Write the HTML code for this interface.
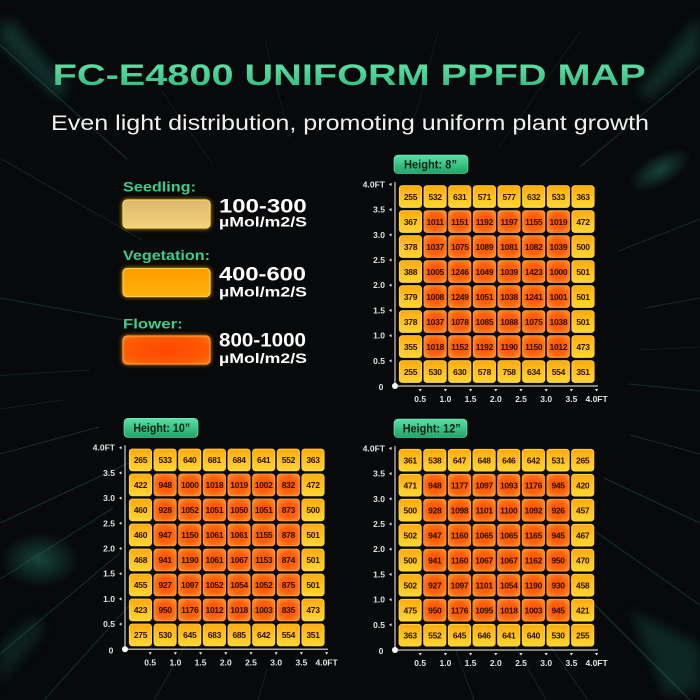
<!DOCTYPE html>
<html><head><meta charset="utf-8">
<style>
html,body{margin:0;padding:0;background:#07090a;width:700px;height:700px;overflow:hidden;}
svg{display:block;overflow:hidden;}
text{font-family:"Liberation Sans",sans-serif;}
.b{font-weight:bold;}
.cv{font-size:8.5px;font-weight:bold;fill:#2a1000;text-anchor:middle;letter-spacing:-0.3px;}
.al{font-size:8.5px;font-weight:bold;fill:#e2e2e2;}
.ae{text-anchor:end;}
.am{text-anchor:middle;}
.cy{fill:url(#gy);stroke:#ffd84f;stroke-width:0.8;}
.co{fill:url(#go);stroke:#ff9a3a;stroke-width:0.8;}
</style></head>
<body>
<svg width="700" height="700" viewBox="0 0 700 700" xmlns="http://www.w3.org/2000/svg">
<defs>
  <clipPath id="frame"><rect x="0" y="0" width="700" height="700"/></clipPath>
  <linearGradient id="tg" x1="0" y1="0" x2="0" y2="1">
    <stop offset="0" stop-color="#66e8ae"/><stop offset="1" stop-color="#2cb67a"/>
  </linearGradient>
  <linearGradient id="badge" x1="0" y1="0" x2="0" y2="1">
    <stop offset="0" stop-color="#58e0a5"/><stop offset="1" stop-color="#20a56a"/>
  </linearGradient>
  <linearGradient id="gy" x1="0" y1="0" x2="0" y2="1">
    <stop offset="0" stop-color="#ffaa10"/><stop offset="0.5" stop-color="#ffc21e"/><stop offset="1" stop-color="#ffd632"/>
  </linearGradient>
  <radialGradient id="go" cx="0.5" cy="0.5" r="0.6">
    <stop offset="0" stop-color="#ff5200"/><stop offset="0.6" stop-color="#ff620c"/><stop offset="1" stop-color="#ff8c2a"/>
  </radialGradient>
  <linearGradient id="ls" x1="0" y1="0" x2="0" y2="1">
    <stop offset="0" stop-color="#dcb86e"/><stop offset="1" stop-color="#f3d27c"/>
  </linearGradient>
  <linearGradient id="lv" x1="0" y1="0" x2="0" y2="1">
    <stop offset="0" stop-color="#ff9c00"/><stop offset="1" stop-color="#ffb20a"/>
  </linearGradient>
  <radialGradient id="lf" cx="0.5" cy="0.5" r="0.7">
    <stop offset="0" stop-color="#ff4800"/><stop offset="0.7" stop-color="#ff5a06"/><stop offset="1" stop-color="#ff7a1a"/>
  </radialGradient>
  <radialGradient id="glow" cx="0.5" cy="0.5" r="0.5">
    <stop offset="0" stop-color="#2a8c78" stop-opacity="0.45"/><stop offset="1" stop-color="#2a8c78" stop-opacity="0"/>
  </radialGradient>
  <filter id="bl" x="-50%" y="-50%" width="200%" height="200%"><feGaussianBlur stdDeviation="2.2"/></filter>
  <filter id="bl3" x="-50%" y="-50%" width="200%" height="200%"><feGaussianBlur stdDeviation="6"/></filter>

  <g id="rowE">
    <rect class="cy" x="0" y="0" width="22.3" height="21.8" rx="3"/>
    <rect class="cy" x="24.65" y="0" width="22.3" height="21.8" rx="3"/>
    <rect class="cy" x="49.3" y="0" width="22.3" height="21.8" rx="3"/>
    <rect class="cy" x="73.95" y="0" width="22.3" height="21.8" rx="3"/>
    <rect class="cy" x="98.6" y="0" width="22.3" height="21.8" rx="3"/>
    <rect class="cy" x="123.25" y="0" width="22.3" height="21.8" rx="3"/>
    <rect class="cy" x="147.9" y="0" width="22.3" height="21.8" rx="3"/>
    <rect class="cy" x="172.55" y="0" width="22.3" height="21.8" rx="3"/>
  </g>
  <g id="rowM">
    <rect class="cy" x="0" y="0" width="22.3" height="21.8" rx="3"/>
    <rect class="co" x="24.65" y="0" width="22.3" height="21.8" rx="3"/>
    <rect class="co" x="49.3" y="0" width="22.3" height="21.8" rx="3"/>
    <rect class="co" x="73.95" y="0" width="22.3" height="21.8" rx="3"/>
    <rect class="co" x="98.6" y="0" width="22.3" height="21.8" rx="3"/>
    <rect class="co" x="123.25" y="0" width="22.3" height="21.8" rx="3"/>
    <rect class="co" x="147.9" y="0" width="22.3" height="21.8" rx="3"/>
    <rect class="cy" x="172.55" y="0" width="22.3" height="21.8" rx="3"/>
  </g>
  <g id="cells">
    <use href="#rowE" y="0"/>
    <use href="#rowM" y="25"/>
    <use href="#rowM" y="50"/>
    <use href="#rowM" y="75"/>
    <use href="#rowM" y="100"/>
    <use href="#rowM" y="125"/>
    <use href="#rowM" y="150"/>
    <use href="#rowE" y="175"/>
  </g>
  <g id="ax">
    <line x1="0" y1="0" x2="0" y2="-204" stroke="#a8a8a8" stroke-width="1.5"/>
    <line x1="0" y1="0" x2="203" y2="0" stroke="#a8a8a8" stroke-width="1.5"/>
    <circle cx="0" cy="0" r="3" fill="#ffffff"/>
    <path fill="#e8e8e8" d="M-6,-25.2l2.5-1.6v3.2z M-6,-50.4l2.5-1.6v3.2z M-6,-75.6l2.5-1.6v3.2z M-6,-100.8l2.5-1.6v3.2z M-6,-126l2.5-1.6v3.2z M-6,-151.2l2.5-1.6v3.2z M-6,-176.4l2.5-1.6v3.2z M-6,-201.6l2.5-1.6v3.2z"/>
    <path fill="#e8e8e8" d="M23.6,3h3.2l-1.6,2.5z M48.8,3h3.2l-1.6,2.5z M74,3h3.2l-1.6,2.5z M99.2,3h3.2l-1.6,2.5z M124.4,3h3.2l-1.6,2.5z M149.6,3h3.2l-1.6,2.5z M174.8,3h3.2l-1.6,2.5z M200,3h3.2l-1.6,2.5z"/>
  </g>
</defs>

<!-- background -->
<rect x="0" y="0" width="700" height="700" fill="#07090a"/>
<g clip-path="url(#frame)">
<ellipse cx="40" cy="560" rx="40" ry="28" fill="url(#glow)"/>
<ellipse cx="660" cy="170" rx="35" ry="16" fill="url(#glow)" transform="rotate(-30 660 170)"/>
<g filter="url(#bl3)" opacity="0.45">
  <polygon points="0,22 12,20 70,90 56,98 0,42" fill="#1d5e52"/>
  <polygon points="700,15 700,55 648,100 638,92" fill="#1a5a4e"/>
  <polygon points="630,610 700,645 700,690 665,695" fill="#164e44"/>
  <polygon points="0,645 35,615 45,630 0,685" fill="#123f38"/>
</g>
<g stroke-linecap="butt">
  <line x1="123" y1="320" x2="0" y2="298" stroke="#3aa48e" stroke-width="0.9" opacity="0.25"/>
  <line x1="99" y1="427" x2="0" y2="454" stroke="#8fe0cf" stroke-width="0.7" opacity="0.2"/>
  <line x1="133" y1="461" x2="0" y2="523" stroke="#3aa48e" stroke-width="1" opacity="0.28"/>
  <line x1="113" y1="508" x2="0" y2="579" stroke="#2f8f7c" stroke-width="1.1" opacity="0.25"/>
  <line x1="120" y1="553" x2="0" y2="654" stroke="#3aa48e" stroke-width="1" opacity="0.25"/>
  <line x1="136" y1="598" x2="44" y2="700" stroke="#2a7f6e" stroke-width="1.2" opacity="0.28"/>
  <line x1="63" y1="400" x2="0" y2="409" stroke="#ffffff" stroke-width="0.6" opacity="0.12"/>
  <line x1="142" y1="240" x2="0" y2="158" stroke="#3aa48e" stroke-width="0.8" opacity="0.22"/>
  <line x1="127" y1="159" x2="0" y2="45" stroke="#3aa48e" stroke-width="1.2" opacity="0.25"/>
  <line x1="212" y1="163" x2="161" y2="90" stroke="#ffffff" stroke-width="0.6" opacity="0.1"/>
  <line x1="290" y1="138" x2="265" y2="41" stroke="#ffffff" stroke-width="0.5" opacity="0.1"/>
  <line x1="412" y1="128" x2="438" y2="32" stroke="#ffffff" stroke-width="0.5" opacity="0.1"/>
  <line x1="499" y1="147" x2="580" y2="32" stroke="#3aa48e" stroke-width="0.7" opacity="0.18"/>
  <line x1="580" y1="167" x2="700" y2="66" stroke="#3aa48e" stroke-width="1.1" opacity="0.25"/>
  <line x1="619" y1="251" x2="700" y2="219" stroke="#3aa48e" stroke-width="0.9" opacity="0.25"/>
  <line x1="645" y1="308" x2="700" y2="298" stroke="#8fe0cf" stroke-width="0.7" opacity="0.18"/>
  <line x1="629" y1="384" x2="700" y2="391" stroke="#3aa48e" stroke-width="0.9" opacity="0.25"/>
  <line x1="630" y1="435" x2="700" y2="454" stroke="#8fe0cf" stroke-width="0.7" opacity="0.2"/>
  <line x1="604" y1="478" x2="700" y2="523" stroke="#3aa48e" stroke-width="1" opacity="0.28"/>
  <line x1="596" y1="532" x2="700" y2="605" stroke="#2f8f7c" stroke-width="1.1" opacity="0.28"/>
  <line x1="569" y1="579" x2="690" y2="700" stroke="#3aa48e" stroke-width="1.2" opacity="0.28"/>
  <line x1="522" y1="606" x2="588" y2="700" stroke="#2f8f7c" stroke-width="1" opacity="0.25"/>
  <line x1="456" y1="651" x2="474" y2="700" stroke="#8fe0cf" stroke-width="0.7" opacity="0.18"/>
  <line x1="267" y1="669" x2="258" y2="700" stroke="#ffffff" stroke-width="0.6" opacity="0.12"/>
  <line x1="200" y1="620" x2="154" y2="700" stroke="#3aa48e" stroke-width="0.9" opacity="0.22"/>
  <line x1="510" y1="637" x2="546" y2="700" stroke="#3aa48e" stroke-width="0.8" opacity="0.22"/>
  <line x1="640" y1="350" x2="700" y2="347" stroke="#ffffff" stroke-width="0.5" opacity="0.12"/>
  <line x1="90" y1="370" x2="0" y2="375.5" stroke="#3aa48e" stroke-width="0.7" opacity="0.2"/>
</g>
</g>

<!-- title -->
<text x="52.7" y="85" class="b" font-size="30" textLength="593" lengthAdjust="spacingAndGlyphs" fill="url(#tg)">FC-E4800 UNIFORM PPFD MAP</text>
<text x="51" y="130" font-size="21" textLength="598" lengthAdjust="spacingAndGlyphs" fill="#f0f0f0">Even light distribution, promoting uniform plant growth</text>

<!-- legend -->
<text x="123" y="191.7" class="b" font-size="14" textLength="73" lengthAdjust="spacingAndGlyphs" fill="#3fcd8c">Seedling:</text>
<text x="123" y="260" class="b" font-size="14" textLength="87" lengthAdjust="spacingAndGlyphs" fill="#3fcd8c">Vegetation:</text>
<text x="123" y="328.3" class="b" font-size="14" textLength="59.7" lengthAdjust="spacingAndGlyphs" fill="#3fcd8c">Flower:</text>

<g filter="url(#bl)" opacity="0.7">
  <rect x="122" y="199" width="89" height="30" rx="5" fill="#ffbb22"/>
  <rect x="122" y="267.5" width="89" height="30" rx="5" fill="#ffb000"/>
  <rect x="122" y="335" width="89" height="30" rx="5" fill="#ff8a10"/>
</g>
<rect x="123" y="200" width="87" height="28" rx="4" fill="url(#ls)" stroke="#ffd566" stroke-width="1.2"/>
<rect x="123" y="268.5" width="87" height="28" rx="4" fill="url(#lv)" stroke="#ffd040" stroke-width="1.2"/>
<rect x="123" y="336" width="87" height="28" rx="4" fill="url(#lf)" stroke="#ff9c34" stroke-width="1.2"/>

<text x="219" y="212.7" class="b" font-size="19" textLength="87.7" lengthAdjust="spacingAndGlyphs" fill="#ffffff">100-300</text>
<text x="219" y="226.7" class="b" font-size="14" textLength="88" lengthAdjust="spacingAndGlyphs" fill="#ffffff">µMol/m2/S</text>
<text x="219" y="280.7" class="b" font-size="19" textLength="87" lengthAdjust="spacingAndGlyphs" fill="#ffffff">400-600</text>
<text x="219" y="296.7" class="b" font-size="14" textLength="88" lengthAdjust="spacingAndGlyphs" fill="#ffffff">µMol/m2/S</text>
<text x="219" y="346.7" class="b" font-size="19" textLength="87" lengthAdjust="spacingAndGlyphs" fill="#ffffff">800-1000</text>
<text x="219" y="363" class="b" font-size="14" textLength="88" lengthAdjust="spacingAndGlyphs" fill="#ffffff">µMol/m2/S</text>

<!-- CHART 8" -->
<g transform="translate(395,386)">
  <rect x="-1" y="-231" width="74" height="18.5" rx="4" fill="url(#badge)" stroke="#7ff0c0" stroke-width="0.6"/>
  <text x="35.5" y="-217.5" class="b am" font-size="11.5" textLength="53" lengthAdjust="spacingAndGlyphs" fill="#0c2217">Height: 8”</text>
  <use href="#ax"/>
  <text class="al ae" x="-10" y="-22.2">0.5</text>
  <text class="al ae" x="-10" y="-47.4">1.0</text>
  <text class="al ae" x="-10" y="-72.6">1.5</text>
  <text class="al ae" x="-10" y="-97.8">2.0</text>
  <text class="al ae" x="-10" y="-123">2.5</text>
  <text class="al ae" x="-10" y="-148.2">3.0</text>
  <text class="al ae" x="-10" y="-173.4">3.5</text>
  <text class="al ae" x="-10" y="-198.6">4.0FT</text>
  <text class="al am" x="-14" y="4">0</text>
  <text class="al am" y="16"><tspan x="25.2">0.5</tspan><tspan x="50.4">1.0</tspan><tspan x="75.6">1.5</tspan><tspan x="100.8">2.0</tspan><tspan x="126">2.5</tspan><tspan x="151.2">3.0</tspan><tspan x="176.4">3.5</tspan><tspan x="201.6">4.0FT</tspan></text>
  <g transform="translate(4.3,-200.3)">
    <use href="#cells"/>
    <text class="cv" y="14.1"><tspan x="11.2">255</tspan><tspan x="35.8">532</tspan><tspan x="60.5">631</tspan><tspan x="85.1">571</tspan><tspan x="109.8">577</tspan><tspan x="134.4">632</tspan><tspan x="159.1">533</tspan><tspan x="183.7">363</tspan></text>
    <text class="cv" y="39.1"><tspan x="11.2">367</tspan><tspan x="35.8">1011</tspan><tspan x="60.5">1151</tspan><tspan x="85.1">1192</tspan><tspan x="109.8">1197</tspan><tspan x="134.4">1155</tspan><tspan x="159.1">1019</tspan><tspan x="183.7">472</tspan></text>
    <text class="cv" y="64.1"><tspan x="11.2">378</tspan><tspan x="35.8">1037</tspan><tspan x="60.5">1075</tspan><tspan x="85.1">1089</tspan><tspan x="109.8">1081</tspan><tspan x="134.4">1082</tspan><tspan x="159.1">1039</tspan><tspan x="183.7">500</tspan></text>
    <text class="cv" y="89.1"><tspan x="11.2">388</tspan><tspan x="35.8">1005</tspan><tspan x="60.5">1246</tspan><tspan x="85.1">1049</tspan><tspan x="109.8">1039</tspan><tspan x="134.4">1423</tspan><tspan x="159.1">1000</tspan><tspan x="183.7">501</tspan></text>
    <text class="cv" y="114.1"><tspan x="11.2">379</tspan><tspan x="35.8">1008</tspan><tspan x="60.5">1249</tspan><tspan x="85.1">1051</tspan><tspan x="109.8">1038</tspan><tspan x="134.4">1241</tspan><tspan x="159.1">1001</tspan><tspan x="183.7">501</tspan></text>
    <text class="cv" y="139.1"><tspan x="11.2">378</tspan><tspan x="35.8">1037</tspan><tspan x="60.5">1078</tspan><tspan x="85.1">1085</tspan><tspan x="109.8">1088</tspan><tspan x="134.4">1075</tspan><tspan x="159.1">1038</tspan><tspan x="183.7">501</tspan></text>
    <text class="cv" y="164.1"><tspan x="11.2">355</tspan><tspan x="35.8">1018</tspan><tspan x="60.5">1152</tspan><tspan x="85.1">1192</tspan><tspan x="109.8">1190</tspan><tspan x="134.4">1150</tspan><tspan x="159.1">1012</tspan><tspan x="183.7">473</tspan></text>
    <text class="cv" y="189.1"><tspan x="11.2">255</tspan><tspan x="35.8">530</tspan><tspan x="60.5">630</tspan><tspan x="85.1">578</tspan><tspan x="109.8">758</tspan><tspan x="134.4">634</tspan><tspan x="159.1">554</tspan><tspan x="183.7">351</tspan></text>
  </g>
</g>

<!-- CHART 10" -->
<g transform="translate(125,649.3)">
  <rect x="-1" y="-231" width="74" height="19" rx="4" fill="url(#badge)" stroke="#7ff0c0" stroke-width="0.6"/>
  <text x="36.7" y="-217.5" class="b am" font-size="11.5" textLength="56.7" lengthAdjust="spacingAndGlyphs" fill="#0c2217">Height: 10”</text>
  <use href="#ax"/>
  <text class="al ae" x="-10" y="-22.2">0.5</text>
  <text class="al ae" x="-10" y="-47.4">1.0</text>
  <text class="al ae" x="-10" y="-72.6">1.5</text>
  <text class="al ae" x="-10" y="-97.8">2.0</text>
  <text class="al ae" x="-10" y="-123">2.5</text>
  <text class="al ae" x="-10" y="-148.2">3.0</text>
  <text class="al ae" x="-10" y="-173.4">3.5</text>
  <text class="al ae" x="-10" y="-198.6">4.0FT</text>
  <text class="al am" x="-14" y="4">0</text>
  <text class="al am" y="16"><tspan x="25.2">0.5</tspan><tspan x="50.4">1.0</tspan><tspan x="75.6">1.5</tspan><tspan x="100.8">2.0</tspan><tspan x="126">2.5</tspan><tspan x="151.2">3.0</tspan><tspan x="176.4">3.5</tspan><tspan x="201.6">4.0FT</tspan></text>
  <g transform="translate(4.3,-200.3)">
    <use href="#cells"/>
    <text class="cv" y="14.1"><tspan x="11.2">265</tspan><tspan x="35.8">533</tspan><tspan x="60.5">640</tspan><tspan x="85.1">681</tspan><tspan x="109.8">684</tspan><tspan x="134.4">641</tspan><tspan x="159.1">552</tspan><tspan x="183.7">363</tspan></text>
    <text class="cv" y="39.1"><tspan x="11.2">422</tspan><tspan x="35.8">948</tspan><tspan x="60.5">1000</tspan><tspan x="85.1">1018</tspan><tspan x="109.8">1019</tspan><tspan x="134.4">1002</tspan><tspan x="159.1">832</tspan><tspan x="183.7">472</tspan></text>
    <text class="cv" y="64.1"><tspan x="11.2">460</tspan><tspan x="35.8">928</tspan><tspan x="60.5">1052</tspan><tspan x="85.1">1051</tspan><tspan x="109.8">1050</tspan><tspan x="134.4">1051</tspan><tspan x="159.1">873</tspan><tspan x="183.7">500</tspan></text>
    <text class="cv" y="89.1"><tspan x="11.2">460</tspan><tspan x="35.8">947</tspan><tspan x="60.5">1150</tspan><tspan x="85.1">1061</tspan><tspan x="109.8">1061</tspan><tspan x="134.4">1155</tspan><tspan x="159.1">878</tspan><tspan x="183.7">501</tspan></text>
    <text class="cv" y="114.1"><tspan x="11.2">468</tspan><tspan x="35.8">941</tspan><tspan x="60.5">1190</tspan><tspan x="85.1">1061</tspan><tspan x="109.8">1067</tspan><tspan x="134.4">1153</tspan><tspan x="159.1">874</tspan><tspan x="183.7">501</tspan></text>
    <text class="cv" y="139.1"><tspan x="11.2">455</tspan><tspan x="35.8">927</tspan><tspan x="60.5">1097</tspan><tspan x="85.1">1052</tspan><tspan x="109.8">1054</tspan><tspan x="134.4">1052</tspan><tspan x="159.1">875</tspan><tspan x="183.7">501</tspan></text>
    <text class="cv" y="164.1"><tspan x="11.2">423</tspan><tspan x="35.8">950</tspan><tspan x="60.5">1176</tspan><tspan x="85.1">1012</tspan><tspan x="109.8">1018</tspan><tspan x="134.4">1003</tspan><tspan x="159.1">835</tspan><tspan x="183.7">473</tspan></text>
    <text class="cv" y="189.1"><tspan x="11.2">275</tspan><tspan x="35.8">530</tspan><tspan x="60.5">645</tspan><tspan x="85.1">683</tspan><tspan x="109.8">685</tspan><tspan x="134.4">642</tspan><tspan x="159.1">554</tspan><tspan x="183.7">351</tspan></text>
  </g>
</g>

<!-- CHART 12" -->
<g transform="translate(395,650)">
  <rect x="-1" y="-231" width="73" height="18.5" rx="4" fill="url(#badge)" stroke="#7ff0c0" stroke-width="0.6"/>
  <text x="36.7" y="-217.5" class="b am" font-size="11.5" textLength="58" lengthAdjust="spacingAndGlyphs" fill="#0c2217">Height: 12”</text>
  <use href="#ax"/>
  <text class="al ae" x="-10" y="-22.2">0.5</text>
  <text class="al ae" x="-10" y="-47.4">1.0</text>
  <text class="al ae" x="-10" y="-72.6">1.5</text>
  <text class="al ae" x="-10" y="-97.8">2.0</text>
  <text class="al ae" x="-10" y="-123">2.5</text>
  <text class="al ae" x="-10" y="-148.2">3.0</text>
  <text class="al ae" x="-10" y="-173.4">3.5</text>
  <text class="al ae" x="-10" y="-198.6">4.0FT</text>
  <text class="al am" x="-14" y="4">0</text>
  <text class="al am" y="16"><tspan x="25.2">0.5</tspan><tspan x="50.4">1.0</tspan><tspan x="75.6">1.5</tspan><tspan x="100.8">2.0</tspan><tspan x="126">2.5</tspan><tspan x="151.2">3.0</tspan><tspan x="176.4">3.5</tspan><tspan x="201.6">4.0FT</tspan></text>
  <g transform="translate(4,-200.7)">
    <use href="#cells"/>
    <text class="cv" y="14.1"><tspan x="11.2">361</tspan><tspan x="35.8">538</tspan><tspan x="60.5">647</tspan><tspan x="85.1">648</tspan><tspan x="109.8">646</tspan><tspan x="134.4">642</tspan><tspan x="159.1">531</tspan><tspan x="183.7">265</tspan></text>
    <text class="cv" y="39.1"><tspan x="11.2">471</tspan><tspan x="35.8">948</tspan><tspan x="60.5">1177</tspan><tspan x="85.1">1097</tspan><tspan x="109.8">1093</tspan><tspan x="134.4">1176</tspan><tspan x="159.1">945</tspan><tspan x="183.7">420</tspan></text>
    <text class="cv" y="64.1"><tspan x="11.2">500</tspan><tspan x="35.8">928</tspan><tspan x="60.5">1098</tspan><tspan x="85.1">1101</tspan><tspan x="109.8">1100</tspan><tspan x="134.4">1092</tspan><tspan x="159.1">926</tspan><tspan x="183.7">457</tspan></text>
    <text class="cv" y="89.1"><tspan x="11.2">502</tspan><tspan x="35.8">947</tspan><tspan x="60.5">1160</tspan><tspan x="85.1">1065</tspan><tspan x="109.8">1065</tspan><tspan x="134.4">1165</tspan><tspan x="159.1">945</tspan><tspan x="183.7">467</tspan></text>
    <text class="cv" y="114.1"><tspan x="11.2">500</tspan><tspan x="35.8">941</tspan><tspan x="60.5">1160</tspan><tspan x="85.1">1067</tspan><tspan x="109.8">1067</tspan><tspan x="134.4">1162</tspan><tspan x="159.1">950</tspan><tspan x="183.7">470</tspan></text>
    <text class="cv" y="139.1"><tspan x="11.2">502</tspan><tspan x="35.8">927</tspan><tspan x="60.5">1097</tspan><tspan x="85.1">1101</tspan><tspan x="109.8">1054</tspan><tspan x="134.4">1190</tspan><tspan x="159.1">930</tspan><tspan x="183.7">458</tspan></text>
    <text class="cv" y="164.1"><tspan x="11.2">475</tspan><tspan x="35.8">950</tspan><tspan x="60.5">1176</tspan><tspan x="85.1">1095</tspan><tspan x="109.8">1018</tspan><tspan x="134.4">1003</tspan><tspan x="159.1">945</tspan><tspan x="183.7">421</tspan></text>
    <text class="cv" y="189.1"><tspan x="11.2">363</tspan><tspan x="35.8">552</tspan><tspan x="60.5">645</tspan><tspan x="85.1">646</tspan><tspan x="109.8">641</tspan><tspan x="134.4">640</tspan><tspan x="159.1">530</tspan><tspan x="183.7">255</tspan></text>
  </g>
</g>
</svg>
</body></html>
